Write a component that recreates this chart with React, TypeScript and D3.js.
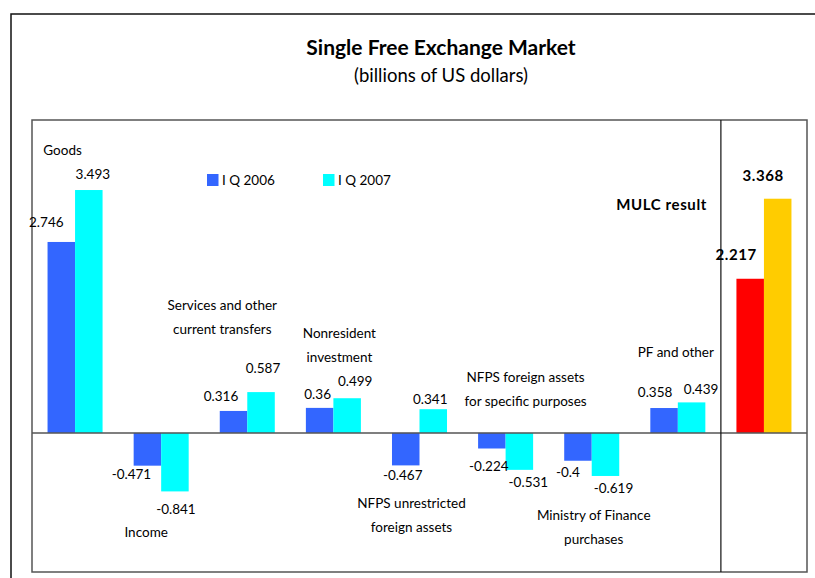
import * as d3 from "d3";

const categories = [
  "Goods",
  "Income",
  "Services",
  "Nonresident",
  "NFPS unrestricted",
  "NFPS specific",
  "Ministry",
  "PF",
  "MULC",
];
const series2006 = [2.746, -0.471, 0.316, 0.36, -0.467, -0.224, -0.4, 0.358, 2.217];
const series2007 = [3.493, -0.841, 0.587, 0.499, 0.341, -0.531, -0.619, 0.439, 3.368];
const categoryLabels = [
  ["Goods"],
  ["Income"],
  ["Services and other", "current transfers"],
  ["Nonresident", "investment"],
  ["NFPS unrestricted", "foreign assets"],
  ["NFPS foreign assets", "for specific purposes"],
  ["Ministry of Finance", "purchases"],
  ["PF and other"],
  ["MULC result"],
];
const legendLabels = ["I Q 2006", "I Q 2007"];

// manual label placement, like the hand-dragged labels of the original
const catLabelPos = [
  { dx: -12.5, y: 155 },
  { dx: -15, y: 537 },
  { dx: -25, y: 310 },
  { dx: 6, y: 338 },
  { dx: -8, y: 508 },
  { dx: 20, y: 382 },
  { dx: 2, y: 520 },
  { dx: -2, y: 357 },
  { dx: -57, y: 210 },
];
const valOff2006 = [
  [-15, -15], [-16, 13], [-12.5, -10], [-2, -9], [-3, 14.5], [-3, 23], [-10, 16], [-9, -11], [-14, -19],
];
const valOff2007 = [
  [4, -11], [1, 23], [2, -19], [8, -12], [-3, -5], [9, 17], [8, 17], [9.5, -8], [-14.5, -18],
];

const W = 815;
const H = 578;
const left = 32;
const right = 807;
const top = 120;
const bottom = 572;
const font = "Lato, 'Open Sans', sans-serif";

const App = () => {
  const x0 = d3.scaleBand().domain(categories).range([left, right]).padding(0);
  const x1 = d3
    .scaleBand()
    .domain(["a", "b"])
    .range([0, x0.bandwidth()])
    .paddingInner(0)
    .paddingOuter(0.565);
  const y = d3.scaleLinear().domain([-2, 4.5]).range([bottom, top]);
  const divider = x0("MULC") as number;
  const blues = ["#3366FF", "#00FFFF"];
  const mulc = ["#FF0000", "#FFCC00"];
  const last = categories.length - 1;

  return (
    <svg width={W} height={H} style={{ position: "absolute", left: 0, top: 0 }} fontFamily={font}>
      <rect x={0} y={0} width={W} height={H} fill="#fff" />
      <rect x={11} y={14} width={W + 20} height={H + 20} fill="none" stroke="#111" strokeWidth={1.5} />
      <text x={441} y={55} textAnchor="middle" fontSize={21} fontWeight="bold">
        Single Free Exchange Market
      </text>
      <text x={441} y={82} textAnchor="middle" fontSize={18.5}>
        (billions of US dollars)
      </text>

      {categories.map((c, i) => {
        const vals = [series2006[i], series2007[i]];
        const cols = i === last ? mulc : blues;
        return (
          <g key={c}>
            {vals.map((v, j) => (
              <rect
                key={j}
                x={(x0(c) as number) + (x1(j === 0 ? "a" : "b") as number)}
                y={y(Math.max(0, v))}
                width={x1.bandwidth()}
                height={Math.abs(y(v) - y(0))}
                fill={cols[j]}
              />
            ))}
          </g>
        );
      })}

      <line x1={left} x2={right} y1={y(0)} y2={y(0)} stroke="#555" strokeWidth={1.5} />
      <rect x={left} y={top} width={right - left} height={bottom - top} fill="none" stroke="#555" strokeWidth={1.5} />
      <line x1={divider} x2={divider} y1={top} y2={bottom} stroke="#111" strokeWidth={1.2} />

      {categories.map((c, i) => {
        const center = (x0(c) as number) + x0.bandwidth() / 2;
        const bold = i === last;
        return (
          <g
            key={"lab" + c}
            fontSize={bold ? 15 : 13.5}
            fontWeight={bold ? "bold" : "normal"}
            letterSpacing={bold ? 0.6 : 0}
          >
            {[series2006[i], series2007[i]].map((v, j) => {
              const off = j === 0 ? valOff2006[i] : valOff2007[i];
              const bx = (x0(c) as number) + (x1(j === 0 ? "a" : "b") as number) + x1.bandwidth() / 2;
              return (
                <text key={j} x={bx + off[0]} y={y(v) + off[1]} textAnchor="middle">
                  {String(v)}
                </text>
              );
            })}
            {categoryLabels[i].map((t, k) => (
              <text
                key={"c" + k}
                x={center + catLabelPos[i].dx}
                y={catLabelPos[i].y + k * 24}
                textAnchor={bold ? "end" : "middle"}
              >
                {t}
              </text>
            ))}
          </g>
        );
      })}

      {legendLabels.map((l, i) => (
        <g key={l} transform={`translate(${207 + i * 116},174)`}>
          <rect width={11.5} height={12} fill={blues[i]} />
          <text x={15} y={10.5} fontSize={13.5}>
            {l}
          </text>
        </g>
      ))}
    </svg>
  );
};

export default App;
